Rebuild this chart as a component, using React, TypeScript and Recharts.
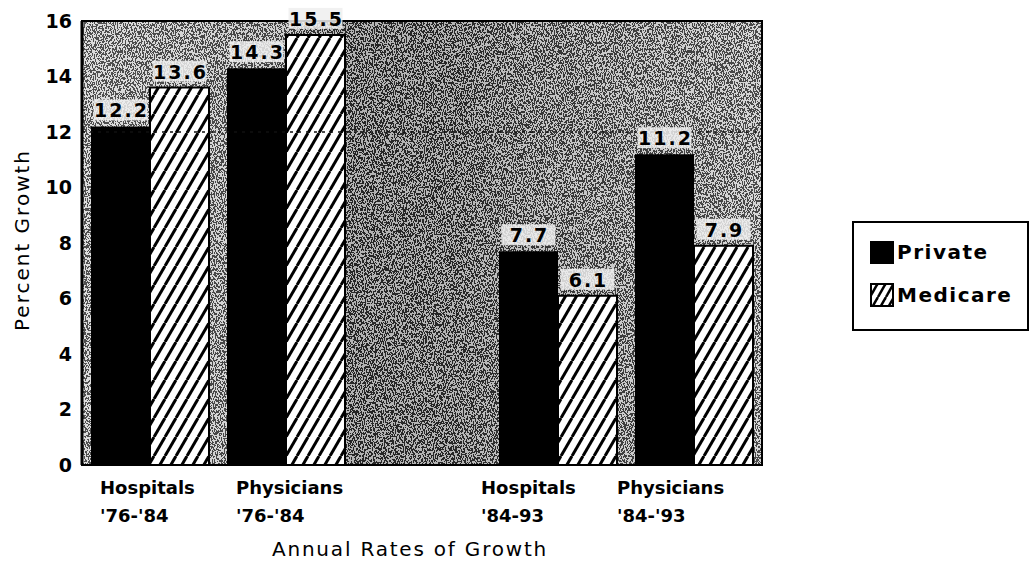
import {
  BarChart,
  Bar,
  XAxis,
  YAxis,
  CartesianGrid,
  ReferenceArea,
  ReferenceLine,
  LabelList,
} from 'recharts'

const categories = ["Hospitals '76-'84", "Physicians '76-'84", '', "Hospitals '84-93", "Physicians '84-'93"]
const privateGrowth = [12.2, 14.3, null, 7.7, 11.2]
const medicareGrowth = [13.6, 15.5, null, 6.1, 7.9]
const yTicks = [0, 2, 4, 6, 8, 10, 12, 14, 16]

const data = categories.map((name, i) => ({
  name,
  private: privateGrowth[i],
  medicare: medicareGrowth[i],
}))

const FONT = '"DejaVu Sans", Arial, sans-serif'

// two-line category label, left-aligned like the scanned original
const XTick = ({ x, y, payload, index }: any) => {
  const value: string = payload?.value ?? ''
  if (!value) return null
  const cut = value.indexOf(' ')
  const left = x + (index < 2 ? -50 : -77)
  return (
    <text x={left} y={y} fontFamily={FONT} fontSize={18} fontWeight={700} fill="#000">
      <tspan x={left} dy={29}>{value.slice(0, cut)}</tspan>
      <tspan x={left} dy={28}>{value.slice(cut + 1)}</tspan>
    </text>
  )
}

const ValueLabel = ({ x, y, width, value }: any) => {
  if (value == null) return null
  const cx = x + width / 2
  return (
    <g>
      <rect x={cx - 27} y={y - 27} width={54} height={21} fill="#eeeeee" fillOpacity={0.85} />
      <text
        x={cx + 1}
        y={y - 9}
        textAnchor="middle"
        fontFamily={FONT}
        fontSize={19}
        fontWeight={700}
        letterSpacing={2}
        fill="#000"
      >
        {value}
      </text>
    </g>
  )
}

const PlotBackground = ({ x, y, width, height }: any) => (
  <g>
    <rect x={x} y={y} width={width} height={height} fill="url(#bgShade)" />
    <rect x={x} y={y} width={width} height={height} filter="url(#grain)" opacity={0.55} />
  </g>
)

const LegendBox = () => (
  <div
    style={{
      position: 'absolute',
      left: 852,
      top: 221,
      width: 177,
      height: 110,
      border: '2px solid #000',
      background: '#fff',
      boxSizing: 'border-box',
      padding: '17px 0 0 16px',
      fontFamily: FONT,
      fontWeight: 700,
      fontSize: 20,
      letterSpacing: 1.5,
    }}
  >
    <div style={{ display: 'flex', alignItems: 'center', height: 24, marginBottom: 19 }}>
      <span style={{ width: 24, height: 23, background: '#000', marginRight: 3 }} />
      Private
    </div>
    <div style={{ display: 'flex', alignItems: 'center', height: 24 }}>
      <svg width={24} height={24} style={{ marginRight: 3 }}>
        <rect x={1} y={1} width={22} height={22} fill="url(#hatchLegend)" stroke="#000" strokeWidth={2} />
        <defs>
          <pattern id="hatchLegend" width={8} height={14} patternUnits="userSpaceOnUse">
            <rect width={8} height={14} fill="#fff" />
            <line x1={0} y1={14} x2={8} y2={0} stroke="#000" strokeWidth={2.5} />
            <line x1={-8} y1={14} x2={0} y2={0} stroke="#000" strokeWidth={2.5} />
            <line x1={8} y1={14} x2={16} y2={0} stroke="#000" strokeWidth={2.5} />
          </pattern>
        </defs>
      </svg>
      Medicare
    </div>
  </div>
)

export default function App() {
  return (
    <div style={{ position: 'absolute', left: 0, top: 0, width: 1031, height: 571, background: '#fff' }}>
      <BarChart
        width={1031}
        height={571}
        data={data}
        margin={{ top: 21, right: 269, bottom: 0, left: 0 }}
        barCategoryGap={9}
        barGap={0}
      >
        <defs>
          <linearGradient id="bgShade" x1="0" y1="0" x2="1" y2="0">
            <stop offset="0%" stopColor="#b4b4b4" />
            <stop offset="28%" stopColor="#989898" />
            <stop offset="40%" stopColor="#555555" />
            <stop offset="55%" stopColor="#5a5a5a" />
            <stop offset="68%" stopColor="#7a7a7a" />
            <stop offset="100%" stopColor="#a6a6a6" />
          </linearGradient>
          <filter id="grain" x="0" y="0" width="100%" height="100%">
            <feTurbulence type="fractalNoise" baseFrequency="0.9 0.45" numOctaves={2} seed={7} />
            <feColorMatrix type="matrix" values="1 0 0 0 0  1 0 0 0 0  1 0 0 0 0  0 0 0 0 1" />
            <feComponentTransfer>
              <feFuncR type="discrete" tableValues="0 1" />
              <feFuncG type="discrete" tableValues="0 1" />
              <feFuncB type="discrete" tableValues="0 1" />
            </feComponentTransfer>
          </filter>
          <pattern id="hatch" width={11} height={19} patternUnits="userSpaceOnUse">
            <rect width={11} height={19} fill="#fff" />
            <line x1={0} y1={19} x2={11} y2={0} stroke="#000" strokeWidth={3} />
            <line x1={-11} y1={19} x2={0} y2={0} stroke="#000" strokeWidth={3} />
            <line x1={11} y1={19} x2={22} y2={0} stroke="#000" strokeWidth={3} />
          </pattern>
        </defs>
        <ReferenceArea
          x1={categories[0]}
          x2={categories[4]}
          y1={0}
          y2={16}
          shape={<PlotBackground />}
          ifOverflow="visible"
        />
        <ReferenceLine y={12} stroke="#111" strokeDasharray="3 5" strokeWidth={1.5} />
        <XAxis
          dataKey="name"
          height={106}
          tickSize={0}
          tickMargin={0}
          tick={<XTick />}
          axisLine={{ stroke: '#000', strokeWidth: 2 }}
          tickLine={false}
          interval={0}
          label={{
            value: 'Annual Rates of Growth',
            content: () => (
              <text
                x={410}
                y={556}
                textAnchor="middle"
                fontFamily={FONT}
                fontSize={20}
                letterSpacing={1.8}
                fill="#000"
              >
                Annual Rates of Growth
              </text>
            ),
          }}
        />
        <YAxis
          width={82}
          domain={[0, 16]}
          ticks={yTicks}
          interval={0}
          tickSize={0}
          tickMargin={10}
          tickLine={false}
          axisLine={{ stroke: '#000', strokeWidth: 3 }}
          tick={{ fill: '#000', fontSize: 19, fontWeight: 700, fontFamily: FONT }}
          label={{
            value: 'Percent Growth',
            content: () => (
              <text
                x={29}
                y={240}
                transform="rotate(-90 29 240)"
                textAnchor="middle"
                fontFamily={FONT}
                fontSize={20}
                letterSpacing={2}
                fill="#000"
              >
                Percent Growth
              </text>
            ),
          }}
        />
        <Bar dataKey="private" fill="#000" isAnimationActive={false}>
          <LabelList dataKey="private" content={<ValueLabel />} />
        </Bar>
        <Bar dataKey="medicare" fill="url(#hatch)" stroke="#000" strokeWidth={2} isAnimationActive={false}>
          <LabelList dataKey="medicare" content={<ValueLabel />} />
        </Bar>
        <ReferenceArea
          x1={categories[0]}
          x2={categories[4]}
          y1={0}
          y2={16}
          fill="none"
          stroke="#000"
          strokeWidth={2}
          ifOverflow="visible"
        />
        <CartesianGrid horizontal={false} vertical={false} />
      </BarChart>
      <LegendBox />
    </div>
  )
}
